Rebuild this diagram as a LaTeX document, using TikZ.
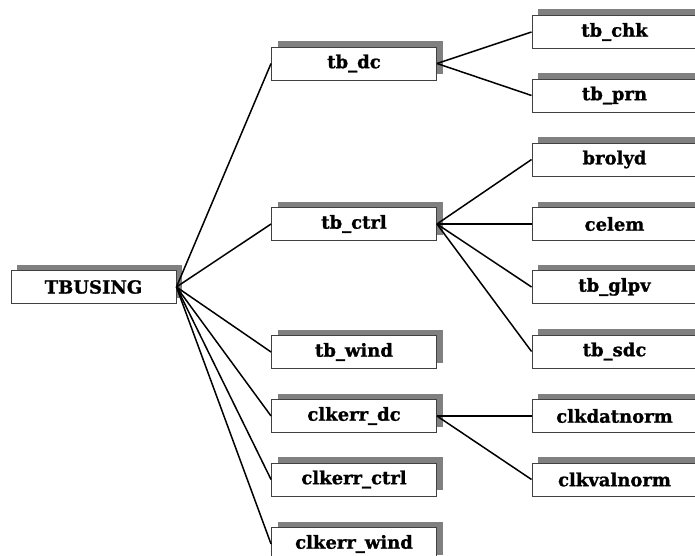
\documentclass[tikz,border=0pt]{standalone}
\usepackage{fontspec}
\setmainfont{DejaVu Serif}[BoldFeatures={FakeBold=1.2}]
\usetikzlibrary{shadows}
\definecolor{shadowgray}{HTML}{808080}
\definecolor{framegray}{HTML}{404040}
\tikzset{
  modbox/.style={draw=framegray, line width=0.9pt, fill=white,
    minimum width=165pt, minimum height=33pt, inner sep=0pt,
    font=\bfseries\fontsize{18}{20}\selectfont,
    drop shadow={shadow xshift=6pt, shadow yshift=6pt, fill=shadowgray, opacity=1}},
  link/.style={draw=black, line width=1.5pt}
}
\begin{document}
\begin{tikzpicture}[x=1pt, y=-1pt]
\useasboundingbox (0,0) rectangle (695,556);
\clip (0,0) rectangle (695,556);

% root
\node[modbox] (root) at (93.5,287) {TBUSING};

% second level
\node[modbox] (tbdc)     at (354,63.5)  {tb\_dc};
\node[modbox] (tbctrl)   at (354,224)   {tb\_ctrl};
\node[modbox] (tbwind)   at (354,352)   {tb\_wind};
\node[modbox] (ckdc)     at (354,416)   {clkerr\_dc};
\node[modbox] (ckctrl)   at (354,479.5) {clkerr\_ctrl};
\node[modbox] (ckwind)   at (354,544)   {clkerr\_wind};

% third level
\node[modbox] (tbchk)    at (614.5,32)    {tb\_chk};
\node[modbox] (tbprn)    at (614.5,95.5)  {tb\_prn};
\node[modbox] (brolyd)   at (614.5,159.5) {brolyd};
\node[modbox] (celem)    at (614.5,224)   {celem};
\node[modbox] (tbglpv)   at (614.5,287)   {tb\_glpv};
\node[modbox] (tbsdc)    at (614.5,351.5) {tb\_sdc};
\node[modbox] (ckdat)    at (614.5,416)   {clkdatnorm};
\node[modbox] (ckval)    at (614.5,479.5) {clkvalnorm};

% connectors
\foreach \c in {tbdc,tbctrl,tbwind,ckdc,ckctrl,ckwind}
  \draw[link] (root.east) -- (\c.west);
\foreach \c in {tbchk,tbprn}
  \draw[link] (tbdc.east) -- (\c.west);
\foreach \c in {brolyd,celem,tbglpv,tbsdc}
  \draw[link] (tbctrl.east) -- (\c.west);
\foreach \c in {ckdat,ckval}
  \draw[link] (ckdc.east) -- (\c.west);
\end{tikzpicture}
\end{document}
